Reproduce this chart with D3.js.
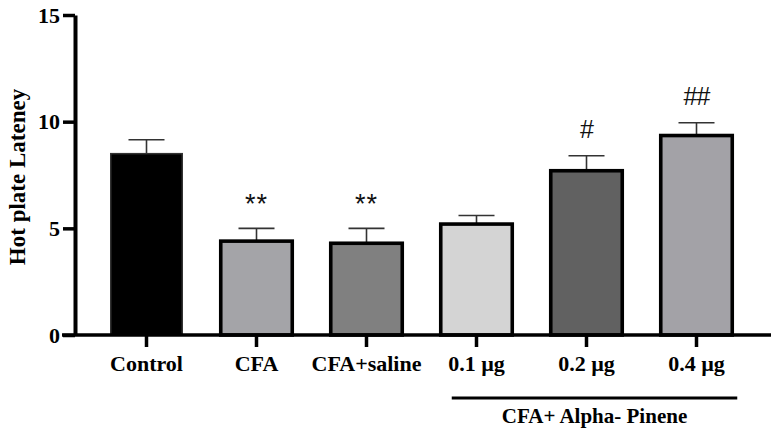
<!DOCTYPE html>
<html>
<head>
<meta charset="utf-8">
<script src="https://cdn.jsdelivr.net/npm/d3@7"></script>
<style>
  body { margin: 0; background: #fff; }
  svg { display: block; }
</style>
</head>
<body>
<svg id="chart" width="782" height="433"></svg>
<script>
// données
var groups = ["Control", "CFA", "CFA+saline", "0.1 µg", "0.2 µg", "0.4 µg"];
var means = [8.5, 4.4, 4.3, 5.2, 7.7, 9.35];
var sems = [0.65, 0.6, 0.7, 0.4, 0.7, 0.6];
var marks = ["", "**", "**", "", "#", "##"];
var fills = ["#000000", "#a4a4a8", "#808080", "#d4d4d4", "#616161", "#a3a2a7"];
var yTicks = [0, 5, 10, 15];
var subGroups = ["0.1 µg", "0.2 µg", "0.4 µg"];
var subLabel = "CFA+ Alpha- Pinene";

var svg = d3.select("#chart");
var serif = "'Liberation Serif', 'Times New Roman', serif";
var sans = "'Liberation Sans', Arial, sans-serif";

// échelles
var xScale = d3.scaleBand().domain(groups).range([91.5, 751.5])
	.paddingInner(0.35).paddingOuter(0.175);
var yScale = d3.scaleLinear().domain([0, 15]).range([335, 15]);
var x0 = 75;

// barres d'erreur (au-dessus seulement)
var err = svg.append("g");
groups.forEach(function(g, i){
	var cx = xScale(g) + xScale.bandwidth() / 2;
	err.append("line")
		.attr("x1", cx).attr("x2", cx)
		.attr("y1", yScale(means[i])).attr("y2", yScale(means[i] + sems[i]))
		.attr("stroke", "#333").attr("stroke-width", 1.6);
	err.append("line")
		.attr("x1", cx - 18).attr("x2", cx + 18)
		.attr("y1", yScale(means[i] + sems[i])).attr("y2", yScale(means[i] + sems[i]))
		.attr("stroke", "#333").attr("stroke-width", 1.6);
});

// barres
svg.append("g").selectAll("rect")
	.data(groups)
	.enter()
	.append("rect")
	.attr("x", function(d){ return xScale(d); })
	.attr("width", xScale.bandwidth())
	.attr("y", function(d, i){ return yScale(means[i]); })
	.attr("height", function(d, i){ return yScale(0) - yScale(means[i]); })
	.style("fill", function(d, i){ return fills[i]; })
	.style("stroke", function(d, i){ return i == 0 ? "#333" : "#000"; })
	.style("stroke-width", function(d, i){ return i == 0 ? 1.5 : 3.6; });

// étoiles et dièses
svg.append("g").selectAll("text")
	.data(groups)
	.enter()
	.append("text")
	.attr("x", function(d){ return xScale(d) + xScale.bandwidth() / 2; })
	.attr("y", function(d, i){
		var star = marks[i].indexOf("*") >= 0;
		return yScale(means[i] + sems[i]) - (star ? 15 : 18);
	})
	.attr("text-anchor", "middle")
	.style("font-family", sans)
	.style("font-size", function(d, i){ return marks[i].indexOf("*") >= 0 ? "27px" : "25px"; })
	.style("letter-spacing", function(d, i){ return marks[i].indexOf("*") >= 0 ? "1px" : "-1px"; })
	.style("fill", "#111")
	.text(function(d, i){ return marks[i]; });

// axe des ordonnées
var yAxis = svg.append("g")
	.attr("transform", `translate(${x0}, 0)`)
	.call(d3.axisLeft(yScale).tickValues(yTicks).tickSize(12).tickSizeOuter(0).tickPadding(3));
yAxis.select(".domain").attr("stroke-width", 4).attr("stroke", "#000");
yAxis.selectAll(".tick line").attr("stroke-width", 3.5).attr("stroke", "#000");
yAxis.selectAll(".tick text")
	.style("font-family", serif).style("font-size", "22px").style("font-weight", "bold")
	.attr("dy", "0.33em").attr("fill", "#000");

// axe des abscisses
var xAxis = svg.append("g")
	.attr("transform", `translate(0, ${yScale(0)})`)
	.call(d3.axisBottom(xScale).tickSize(12).tickSizeOuter(0));
xAxis.select(".domain").remove();
xAxis.selectAll(".tick line").attr("stroke-width", 3.5).attr("stroke", "#000");
xAxis.selectAll(".tick text")
	.style("font-family", serif).style("font-size", "22px").style("font-weight", "bold")
	.attr("y", 36).attr("dy", 0).attr("fill", "#000");
svg.append("line")
	.attr("x1", x0 - 13).attr("x2", 771)
	.attr("y1", yScale(0)).attr("y2", yScale(0))
	.attr("stroke", "#000").attr("stroke-width", 3.5);

// titre de l'axe ordonnée
svg.append("text")
	.attr("transform", "translate(25, 177) rotate(-90)")
	.attr("text-anchor", "middle")
	.style("font-family", serif).style("font-size", "23px").style("font-weight", "bold")
	.text("Hot plate Lateney");

// trait et libellé du sous-groupe
var subLeft = xScale(subGroups[0]) + 11;
var subRight = xScale(subGroups[subGroups.length - 1]) + xScale.bandwidth() + 5;
svg.append("line")
	.attr("x1", subLeft).attr("x2", subRight)
	.attr("y1", 398).attr("y2", 398)
	.attr("stroke", "#000").attr("stroke-width", 3);
svg.append("text")
	.attr("x", (subLeft + subRight) / 2)
	.attr("y", 423)
	.attr("text-anchor", "middle")
	.style("font-family", serif).style("font-size", "21px").style("font-weight", "bold")
	.text(subLabel);
</script>
</body>
</html>
